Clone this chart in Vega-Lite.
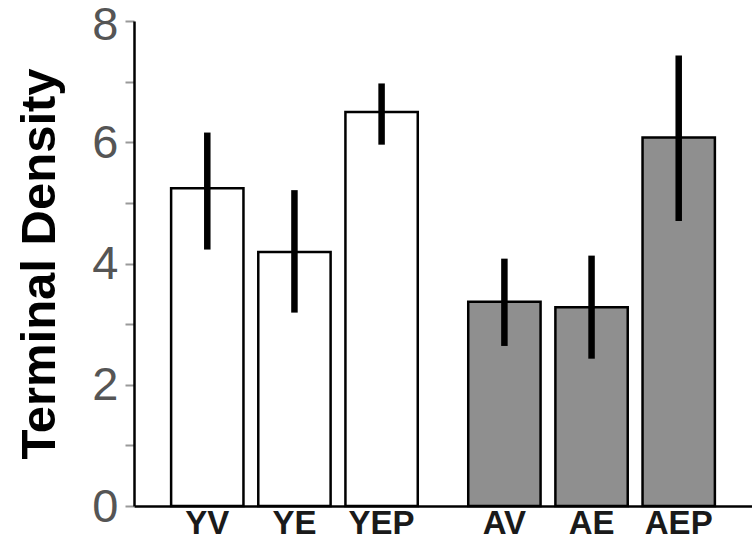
{
  "$schema": "https://vega.github.io/schema/vega-lite/v6.json",
  "width": 618,
  "height": 485,
  "padding": {"left": 134, "top": 21, "right": 0, "bottom": 54},
  "autosize": {"type": "none"},
  "background": "white",
  "config": {"view": {"stroke": null}},
  "data": {
    "values": [
      {"label": "YV", "group": "Young", "treatment": "V", "mean": 5.24, "lo": 4.23, "hi": 6.16},
      {"label": "YE", "group": "Young", "treatment": "E", "mean": 4.19, "lo": 3.19, "hi": 5.21},
      {"label": "YEP", "group": "Young", "treatment": "EP", "mean": 6.50, "lo": 5.96, "hi": 6.97},
      {"label": "AV", "group": "Adult", "treatment": "V", "mean": 3.37, "lo": 2.64, "hi": 4.08},
      {"label": "AE", "group": "Adult", "treatment": "E", "mean": 3.28, "lo": 2.43, "hi": 4.13},
      {"label": "AEP", "group": "Adult", "treatment": "EP", "mean": 6.08, "lo": 4.70, "hi": 7.43}
    ]
  },
  "encoding": {
    "x": {
      "field": "group", "type": "nominal",
      "scale": {"domain": ["Young", "Adult"], "paddingInner": 0.12, "paddingOuter": 0.1},
      "axis": {"title": null, "labels": false, "ticks": false, "domainColor": "black", "domainWidth": 2.5}
    },
    "xOffset": {
      "field": "treatment", "type": "nominal",
      "scale": {"domain": ["V", "E", "EP"], "paddingInner": 0.17, "paddingOuter": 0.085}
    }
  },
  "layer": [
    {
      "mark": {"type": "bar", "stroke": "black", "strokeWidth": 2.5},
      "encoding": {
        "y": {
          "field": "mean", "type": "quantitative",
          "scale": {"domain": [0, 8], "nice": false},
          "axis": {
            "title": "Terminal Density",
            "titleFont": "Liberation Sans", "titleFontSize": 49, "titleFontWeight": "bold", "titleColor": "black",
            "titlePadding": 27,
            "values": [0, 1, 2, 3, 4, 5, 6, 7, 8],
            "format": "d",
            "labelExpr": "datum.value % 2 == 0 ? datum.label : ''",
            "labelFont": "Liberation Sans", "labelFontSize": 47, "labelColor": "#555555",
            "labelPadding": 7,
            "labelOffset": {"condition": {"test": "datum.value == 8", "value": 4}, "value": 1},
            "tickColor": "#999999", "tickSize": 9, "tickWidth": 2,
            "domainColor": "black", "domainWidth": 2.5,
            "grid": false
          }
        },
        "color": {
          "field": "group", "type": "nominal",
          "scale": {"domain": ["Young", "Adult"], "range": ["white", "#8f8f8f"]},
          "legend": null
        }
      }
    },
    {
      "mark": {"type": "rule", "color": "black", "strokeWidth": 6.5},
      "encoding": {
        "y": {"field": "lo", "type": "quantitative"},
        "y2": {"field": "hi"}
      }
    },
    {
      "mark": {"type": "text", "font": "Liberation Sans", "fontSize": 33, "fontWeight": "bold", "color": "#1a1a1a", "baseline": "middle", "dy": 18},
      "encoding": {
        "y": {"datum": 0},
        "text": {"field": "label"}
      }
    }
  ]
}
